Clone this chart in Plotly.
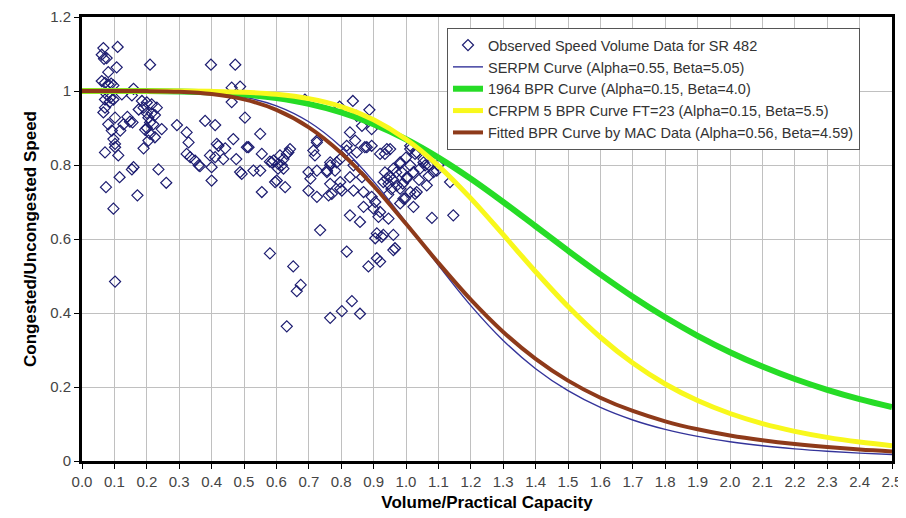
import plotly.graph_objects as go

# ---- data ----
obs_x = [0.066,0.11,0.061,0.068,0.076,0.107,0.081,0.21,0.061,0.071,0.081,0.097,0.159,
         0.076,0.087,0.097,0.071,0.123,0.154,0.185,0.2,0.215,0.231,0.19,0.071,0.066,
         0.205,0.21,0.22,0.102,0.081,0.128,0.148,0.156,0.246,0.092,0.118,0.21,0.097,0.102,
         0.205,0.19,0.102,0.071,0.112,0.159,0.154,0.236,0.116,0.26,0.074,0.171,0.097,0.102,
         0.09,0.085,0.14,0.175,0.2,0.225,0.195,0.2,0.215,0.225,
         0.293,0.38,0.411,0.323,0.329,0.467,0.398,0.473,0.462,0.488,0.462,0.503,0.421,0.442,
         0.509,0.323,0.334,0.349,0.36,0.364,0.395,0.411,0.436,0.476,0.4,0.4,0.493,0.416,0.514,
         0.529,0.55,0.55,0.555,0.555,0.586,0.591,0.606,0.611,0.622,0.632,0.642,0.637,0.622,
         0.601,0.627,0.617,0.58,0.596,0.605,0.488,0.58,0.652,0.663,0.675,0.632,0.688,
         0.725,0.714,0.719,0.699,0.705,0.699,0.725,0.725,0.756,0.766,0.781,0.766,0.771,0.797,
         0.802,0.786,0.756,0.725,0.766,0.797,0.817,0.761,0.797,0.735,0.766,0.802,0.833,0.858,
         0.817,0.795,0.836,0.887,0.848,0.864,0.894,0.827,0.843,0.848,0.817,0.838,0.827,0.838,
         0.869,0.864,0.869,0.827,0.858,0.873,0.894,0.879,
         0.92,0.941,0.894,0.9,0.905,0.92,0.915,0.946,0.91,0.925,0.905,0.91,0.92,0.884,0.961,
         0.93,0.946,0.941,0.982,0.961,0.982,1.013,1.003,1.023,1.043,1.059,1.085,1.095,1.013,
         1.028,1.023,0.992,0.982,1.064,1.013,1.033,1.054,1.136,1.08,1.146,1.013,1.028,0.951,
         0.935,0.982,1.054,0.987,1.003,0.972,0.997,0.961,0.93,0.966,1.033,0.95,0.96,0.97,
         0.935,0.955,0.945,1.0,1.04,1.07,0.99,1.1,1.07]
obs_y = [1.116,1.119,1.098,1.087,1.089,1.064,1.051,1.071,1.027,1.022,1.018,1.015,1.006,
         0.991,0.982,0.977,0.977,0.991,0.988,0.973,0.969,0.964,0.955,0.955,0.955,0.942,
         0.928,0.915,0.910,0.928,0.910,0.910,0.917,0.915,0.897,0.893,0.893,0.884,0.870,0.857,
         0.866,0.845,0.848,0.834,0.826,0.794,0.788,0.788,0.767,0.752,0.740,0.718,0.682,0.485,
         1.02,0.97,0.93,0.95,0.94,0.935,0.895,0.90,0.94,0.875,
         0.908,0.919,0.908,0.888,0.861,0.870,1.071,1.071,1.009,1.012,0.970,0.928,0.852,0.845,
         0.848,0.830,0.821,0.812,0.799,0.797,0.826,0.821,0.816,0.816,0.794,0.758,0.776,0.857,0.848,
         0.785,0.785,0.884,0.830,0.727,0.807,0.812,0.803,0.826,0.816,0.830,0.843,0.834,0.79,
         0.758,0.74,0.799,0.809,0.754,0.79,0.781,0.561,0.526,0.459,0.476,0.364,0.977,
         0.866,0.839,0.826,0.781,0.763,0.731,0.714,0.785,0.781,0.799,0.785,0.749,0.722,0.754,
         0.731,0.807,0.785,0.861,0.807,0.816,0.852,0.718,0.736,0.624,0.387,0.405,0.432,0.398,
         0.566,0.958,0.973,0.949,0.933,0.906,0.897,0.888,0.866,0.834,0.839,0.799,0.767,0.731,
         0.727,0.767,0.687,0.664,0.646,0.848,0.852,0.848,
         0.830,0.843,0.714,0.682,0.700,0.673,0.660,0.655,0.615,0.606,0.602,0.548,0.539,0.526,0.570,
         0.754,0.749,0.763,0.736,0.79,0.803,0.799,0.767,0.781,0.79,0.799,0.781,0.785,0.727,
         0.722,0.687,0.709,0.696,0.745,0.843,0.834,0.816,0.754,0.657,0.664,0.852,0.830,0.843,
         0.830,0.807,0.807,0.781,0.763,0.745,0.709,0.611,0.611,0.575,0.727,0.77,0.76,0.78,
         0.78,0.735,0.72,0.82,0.76,0.77,0.75,0.80,0.80]

vc = [0.0,0.1,0.2,0.3,0.4,0.5,0.6,0.7,0.8,0.9,1.0,1.1,1.2,1.3,1.4,1.5,1.6,1.7,1.8,1.9,
      2.0,2.1,2.2,2.3,2.4,2.5]
serpm = [1.000,1.000,1.000,0.9987,0.9946,0.9837,0.9600,0.9168,0.8487,0.7558,0.6452,0.5291,
         0.4200,0.3258,0.2495,0.1900,0.1448,0.1109,0.0855,0.0664,0.0520,0.0411,0.0328,
         0.0264,0.0214,0.0175]
bpr1964 = [1.000,1.000,1.000,0.9988,0.9962,0.9907,0.9809,0.9652,0.9421,0.9104,0.8696,0.8199,
           0.7628,0.7001,0.6344,0.5684,0.5043,0.4439,0.3884,0.3384,0.2941,0.2553,0.2215,
           0.1924,0.1673,0.1458]
cfrpm = [1.000,1.000,1.000,0.9998,0.9990,0.9967,0.9910,0.9793,0.9579,0.9225,0.8696,0.7979,
         0.7098,0.6116,0.5116,0.4175,0.3345,0.2648,0.2082,0.1634,0.1284,0.1012,0.0802,
         0.0639,0.0513,0.0414]
mac = [1.000,1.000,0.9997,0.9978,0.9917,0.9773,0.9490,0.9018,0.8326,0.7433,0.6410,0.5355,
       0.4361,0.3488,0.2760,0.2173,0.1711,0.1352,0.1073,0.0858,0.0690,0.0560,0.0457,
       0.0376,0.0311,0.0259]

x_ticks = [round(i * 0.1, 1) for i in range(26)]
x_tick_labels = [f"{v:.1f}" for v in x_ticks]
y_ticks = [0, 0.2, 0.4, 0.6, 0.8, 1.0, 1.2]
y_tick_labels = ["0", "0.2", "0.4", "0.6", "0.8", "1", "1.2"]

names = ["Observed Speed Volume Data for SR 482",
         "SERPM Curve (Alpha=0.55, Beta=5.05)",
         "1964 BPR Curve (Alpha=0.15, Beta=4.0)",
         "CFRPM 5 BPR Curve FT=23 (Alpha=0.15, Beta=5.5)",
         "Fitted BPR Curve by MAC Data (Alpha=0.56, Beta=4.59)"]

fig = go.Figure()
fig.add_trace(go.Scatter(x=obs_x, y=obs_y, mode="markers", name=names[0], legendgroup="a",
                         marker=dict(symbol="diamond-open", size=8.5, color="#1c1c70",
                                     line=dict(width=1.2, color="#1c1c70"))))
fig.add_trace(go.Scatter(x=vc, y=serpm, mode="lines", name=names[1], legendgroup="b",
                         line=dict(color="#34349a", width=1.4, shape="spline")))
fig.add_trace(go.Scatter(x=vc, y=bpr1964, mode="lines", name=names[2], legendgroup="c",
                         line=dict(color="#26dc26", width=6, shape="spline")))
fig.add_trace(go.Scatter(x=vc, y=cfrpm, mode="lines", name=names[3], legendgroup="d",
                         line=dict(color="#f8f81c", width=5, shape="spline")))
fig.add_trace(go.Scatter(x=vc, y=mac, mode="lines", name=names[4], legendgroup="e",
                         line=dict(color="#8e3a1a", width=4, shape="spline")))

fig.update_layout(
    width=898, height=510,
    margin=dict(l=74, r=14, t=9, b=57, autoexpand=False),
    paper_bgcolor="white", plot_bgcolor="white",
    font=dict(family="Liberation Sans, Arial, sans-serif", color="#444444"),
    showlegend=True,
    legend=dict(x=0.4506, y=0.975, xanchor="left", yanchor="top",
                bgcolor="white", bordercolor="#555555", borderwidth=1,
                font=dict(size=14.5, color="#333333"), tracegroupgap=0,
                itemwidth=30),
    xaxis=dict(range=[0, 2.5], tickmode="array", tickvals=x_ticks, ticktext=x_tick_labels,
               automargin=False, ticklabeloverflow="allow",
               showgrid=True, gridcolor="#c0c0c0", gridwidth=1,
               showline=True, linecolor="black", linewidth=3, mirror=True,
               ticks="outside", ticklen=5, tickcolor="black", zeroline=False,
               tickfont=dict(size=15, color="#444444"),
               title=dict(text="<b>Volume/Practical Capacity</b>", standoff=8,
                          font=dict(size=17, color="black"))),
    yaxis=dict(range=[0, 1.2], tickmode="array", tickvals=y_ticks, ticktext=y_tick_labels,
               automargin=False, ticklabeloverflow="allow",
               showgrid=True, gridcolor="#c0c0c0", gridwidth=1,
               showline=True, linecolor="black", linewidth=3, mirror=True,
               ticks="outside", ticklen=5, tickcolor="black", zeroline=False,
               tickfont=dict(size=15, color="#444444"),
               title=dict(text="<b>Congested/Uncongested Speed</b>", standoff=10,
                          font=dict(size=17, color="black"))),
)

fig.write_html("out.html")
